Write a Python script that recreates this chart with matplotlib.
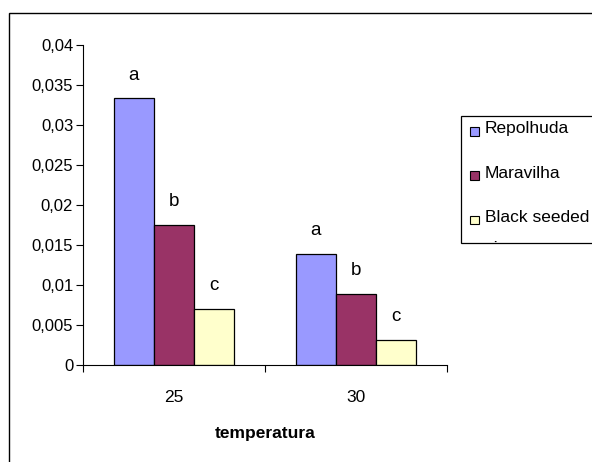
import numpy as np
import matplotlib.pyplot as plt
from matplotlib.patches import Rectangle

plt.rcParams['font.family'] = ['Liberation Sans', 'DejaVu Sans']

# germination rate by temperature and cultivar
temperaturas = ['25', '30']
cultivares = ['Repolhuda', 'Maravilha', 'Black seeded\nsimpson']
valores = [
    [0.0333, 0.0139],
    [0.0175, 0.0089],
    [0.0070, 0.0031],
]
letras = [['a', 'a'], ['b', 'b'], ['c', 'c']]
cores = ['#9999ff', '#993366', '#ffffcc']
yticks = [0, 0.005, 0.01, 0.015, 0.02, 0.025, 0.03, 0.035, 0.04]

fig = plt.figure(figsize=(5.92, 4.62), dpi=100)
ax = fig.add_axes([0.140, 0.210, 0.615, 0.693])

x = np.arange(len(temperaturas))
w = 0.22
for i, (serie, cor) in enumerate(zip(valores, cores)):
    pos = x + (i - 1) * w
    ax.bar(pos, serie, width=w, color=cor, edgecolor='black', linewidth=0.9)
    for xp, v, l in zip(pos, serie, letras[i]):
        ax.text(xp, v + 0.0029, l, ha='center', va='center', fontsize=13.5)

ax.set_xlim(-0.5, 1.5)
ax.set_ylim(0, 0.04)
ax.set_yticks(yticks)
ax.set_yticklabels([('%g' % t).replace('.', ',') for t in yticks], fontsize=12)
ax.set_xticks([-0.5, 0.5, 1.5], minor=False)
ax.set_xticklabels(['', '', ''])
ax.set_xticks(x, minor=True)
ax.set_xticklabels(temperaturas, minor=True, fontsize=12.5)
ax.tick_params(axis='x', which='minor', length=0, pad=18)
ax.tick_params(axis='both', which='major', length=5, width=0.8, direction='out')
ax.tick_params(axis='y', pad=2)
ax.spines['top'].set_visible(False)
ax.spines['right'].set_visible(False)
ax.set_xlabel('temperatura', fontweight='bold', fontsize=12.5, labelpad=15)

# outer chart border
fig.patches.append(Rectangle((9 / 592, -0.1), 1.2, 1 - 13 / 462 + 0.1,
                             transform=fig.transFigure, fill=False,
                             edgecolor='black', linewidth=1))

# legend box, last label runs past its bottom edge
caixa = Rectangle((461 / 592, 1 - 243 / 462), 0.5, (243 - 116) / 462,
                  transform=fig.transFigure, facecolor='white',
                  edgecolor='black', linewidth=0.9)
fig.patches.append(caixa)
for k, (nome, cor) in enumerate(zip(cultivares, cores)):
    yc = 1 - (131 + k * 44.5) / 462
    fig.patches.append(Rectangle((470 / 592, yc - 4.5 / 462), 9 / 592, 9 / 462,
                                 transform=fig.transFigure, facecolor=cor,
                                 edgecolor='black', linewidth=0.8))
    t = fig.text(485 / 592, yc + 10 / 462, nome, fontsize=12.5, va='top',
                 linespacing=2.35)
    t.set_clip_path(caixa)

fig.savefig('out.png', dpi=100)
